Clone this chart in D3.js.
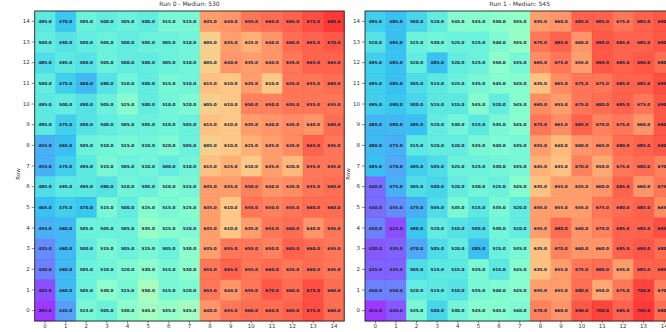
<!DOCTYPE html>
<html>
<head>
<meta charset="utf-8">
<script src="https://cdn.jsdelivr.net/npm/d3@7"></script>
<style>
  html, body { margin: 0; padding: 0; background: #fff; }
  svg { display: block; font-family: "DejaVu Sans", sans-serif; }
</style>
</head>
<body>
<svg id="chart" width="666" height="332"></svg>
<script>
// Grid indices
const columns = d3.range(15);
const rows = d3.range(15);

// Values per row, listed from the top row (14) down to row 0
const run0Values = [
  [495, 470, 505, 500, 505, 500, 515, 515, 635, 640, 655, 660, 665, 675, 685],
  [500, 490, 500, 505, 500, 505, 505, 510, 605, 635, 625, 640, 660, 665, 670],
  [485, 495, 490, 505, 500, 500, 505, 510, 605, 640, 635, 640, 655, 665, 665],
  [500, 475, 460, 490, 510, 500, 515, 510, 615, 610, 635, 610, 655, 655, 660],
  [495, 500, 490, 505, 525, 500, 510, 520, 605, 610, 650, 650, 655, 655, 655],
  [495, 475, 490, 500, 505, 505, 510, 505, 615, 610, 635, 640, 645, 640, 660],
  [455, 465, 505, 510, 515, 510, 520, 505, 605, 610, 625, 635, 645, 665, 655],
  [455, 475, 495, 515, 505, 510, 500, 510, 615, 625, 610, 635, 620, 655, 655],
  [485, 495, 495, 490, 510, 505, 520, 515, 635, 635, 650, 640, 645, 655, 660],
  [465, 475, 470, 515, 500, 525, 515, 525, 635, 610, 655, 650, 655, 660, 660],
  [455, 460, 505, 505, 505, 535, 525, 520, 635, 610, 635, 655, 660, 640, 655],
  [435, 460, 500, 515, 505, 515, 505, 530, 635, 655, 655, 650, 665, 660, 655],
  [430, 460, 505, 510, 520, 530, 515, 530, 655, 665, 655, 660, 655, 660, 655],
  [405, 460, 505, 530, 515, 550, 515, 520, 655, 640, 655, 670, 660, 675, 660],
  [395, 445, 515, 505, 530, 545, 535, 545, 640, 655, 660, 660, 665, 675, 660]
];

const run1Values = [
  [495, 485, 500, 520, 545, 545, 550, 555, 655, 660, 685, 685, 675, 685, 690],
  [510, 485, 525, 530, 525, 525, 540, 555, 675, 685, 660, 690, 685, 685, 690],
  [495, 485, 520, 485, 520, 525, 550, 535, 665, 675, 655, 690, 685, 690, 680],
  [495, 485, 505, 515, 525, 535, 545, 545, 635, 665, 675, 675, 685, 685, 695],
  [495, 490, 500, 515, 515, 545, 520, 545, 665, 655, 675, 680, 685, 675, 690],
  [480, 480, 485, 520, 530, 515, 535, 545, 675, 665, 685, 670, 675, 660, 690],
  [480, 475, 515, 520, 520, 535, 540, 535, 655, 640, 660, 665, 680, 685, 690],
  [485, 470, 495, 505, 525, 525, 530, 535, 645, 635, 670, 650, 675, 680, 670],
  [440, 475, 505, 500, 520, 530, 525, 545, 635, 655, 655, 660, 685, 660, 675],
  [440, 455, 475, 505, 535, 515, 535, 520, 655, 655, 655, 675, 680, 685, 665],
  [450, 425, 490, 520, 510, 505, 530, 520, 655, 680, 660, 670, 685, 685, 695],
  [430, 435, 470, 505, 520, 485, 525, 535, 635, 670, 660, 660, 685, 690, 680],
  [435, 435, 505, 515, 515, 535, 515, 545, 635, 655, 675, 680, 655, 685, 685],
  [450, 450, 520, 515, 510, 535, 540, 545, 655, 655, 680, 650, 675, 700, 670],
  [415, 430, 535, 500, 530, 545, 545, 540, 670, 660, 690, 700, 685, 705, 680]
];

const panelTitles = ["Run 0 - Median: 530", "Run 1 - Median: 545"];
const xLabel = "Column";
const yLabel = "Row";

// matplotlib-style "rainbow" colormap
function rainbow(t) {
  const c = v => Math.max(0, Math.min(1, v));
  const r = c(Math.abs(2 * t - 0.5));
  const g = c(Math.sin(Math.PI * t));
  const b = c(Math.cos(Math.PI * t / 2));
  return d3.rgb(r * 255, g * 255, b * 255).toString();
}

const svg = d3.select("#chart");
const panelW = 309.5, panelH = 310;
const panelLefts = [34.7, 365];
const panelTop = 11;

[run0Values, run1Values].forEach((grid, p) => {
  const g = svg.append("g").attr("transform", `translate(${panelLefts[p]},${panelTop})`);

  const x = d3.scaleBand().domain(columns).range([0, panelW]);
  const y = d3.scaleBand().domain(rows.slice().reverse()).range([0, panelH]);

  // flatten: grid[i] is row 14 - i
  const cells = [];
  grid.forEach((vals, i) => vals.forEach((v, c) => cells.push({ row: 14 - i, col: c, v })));

  const extent = d3.extent(cells, d => d.v);
  const norm = d3.scaleLinear().domain(extent).range([0, 1]);

  g.selectAll("rect.cell").data(cells).join("rect")
    .attr("class", "cell")
    .attr("x", d => x(d.col))
    .attr("y", d => y(d.row))
    .attr("width", x.bandwidth() + 0.3)
    .attr("height", y.bandwidth() + 0.3)
    .attr("fill", d => rainbow(norm(d.v)))
    .attr("fill-opacity", 0.78);

  g.selectAll("text.val").data(cells).join("text")
    .attr("class", "val")
    .attr("x", d => x(d.col) + x.bandwidth() / 2)
    .attr("y", d => y(d.row) + y.bandwidth() / 2)
    .attr("text-anchor", "middle")
    .attr("dominant-baseline", "central")
    .attr("font-size", 4.2)
    .attr("font-weight", "bold")
    .attr("fill", "#1c1c3a")
    .text(d => d.v.toFixed(1));

  // frame
  g.append("rect")
    .attr("width", panelW).attr("height", panelH)
    .attr("fill", "none").attr("stroke", "#222").attr("stroke-width", 0.9);

  const xAxis = g.append("g").attr("transform", `translate(0,${panelH})`)
    .call(d3.axisBottom(x).tickSize(2.5).tickPadding(0.5));
  const yAxis = g.append("g")
    .call(d3.axisLeft(y).tickSize(3).tickPadding(2));
  [xAxis, yAxis].forEach(a => {
    a.select(".domain").remove();
    a.selectAll("line").attr("stroke", "#333").attr("stroke-width", 0.6);
    a.selectAll("text").attr("font-size", 5.5).attr("fill", "#333")
      .attr("font-family", "DejaVu Sans, sans-serif");
  });

  g.append("text")
    .attr("x", panelW / 2).attr("y", -5.5)
    .attr("text-anchor", "middle")
    .attr("font-size", 6).attr("fill", "#333")
    .text(panelTitles[p]);

  g.append("text")
    .attr("x", panelW / 2).attr("y", panelH + 15)
    .attr("text-anchor", "middle")
    .attr("font-size", 5.5).attr("fill", "#333")
    .text(xLabel);

  g.append("text")
    .attr("transform", `translate(-15,${panelH / 2 + 8}) rotate(-90)`)
    .attr("text-anchor", "middle")
    .attr("font-size", 5.5).attr("fill", "#333")
    .text(yLabel);
});
</script>
</body>
</html>
